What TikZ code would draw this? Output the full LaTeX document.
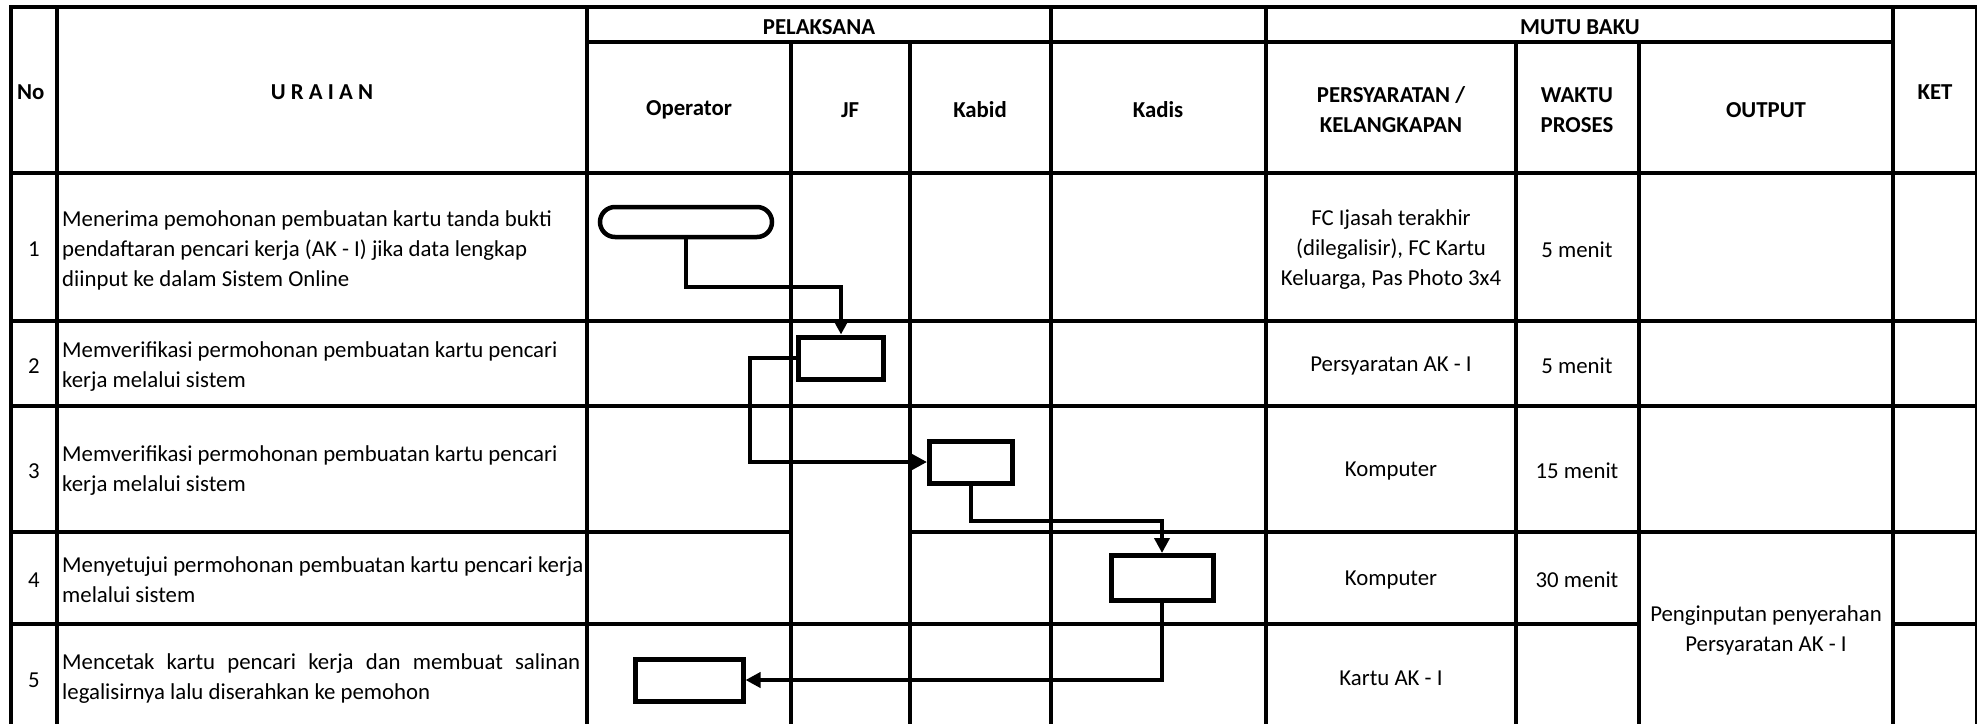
\documentclass[tikz,border=0pt]{standalone}
\usepackage{fontspec}
\setmainfont{Carlito}
\usetikzlibrary{arrows.meta}
\setlength{\parindent}{0pt}
\def\fsize{\fontsize{22.8}{30}\selectfont}

\begin{document}
\begin{tikzpicture}[x=1pt,y=-1pt,
    grid/.style={line width=4.5pt,line cap=rect},
    box/.style={draw,line width=5pt,minimum width=#1,minimum height=42pt,inner sep=0pt},
    flow/.style={line width=4pt,-{Triangle[length=15pt,width=15pt]}},
    txt/.style={font=\fsize,align=center,inner sep=0pt,yshift=-2pt},
    hd/.style={txt,font=\fsize\bfseries},
    left/.style={txt,anchor=west,align=left}]
    \useasboundingbox (0,0) rectangle (1977,723);
    \clip (0,0) rectangle (1977,723);
    \foreach \x in {11,57,587,1051,1266,1893,1977}
      \draw[grid] (\x,7) -- (\x,730);
    \foreach \x in {791,910,1516,1639}
      \draw[grid] (\x,42) -- (\x,730);
    \draw[grid] (11,7) -- (1977,7);
    \draw[grid] (587,42) -- (1893,42);
    \foreach \y in {173,321,406}
      \draw[grid] (11,\y) -- (1977,\y);
    \draw[grid] (11,532) -- (791,532) (910,532) -- (1977,532);
    \draw[grid] (11,624) -- (1639,624) (1893,624) -- (1977,624);

    \node[hd,anchor=west] (hno) at (17,90) {No};
    \node[hd] (huraian) at (322,90) {U R A I A N};
    \node[hd] (hpelaksana) at (819,25) {PELAKSANA};
    \node[hd] (hmutu) at (1580,25) {MUTU BAKU};
    \node[hd] (hoperator) at (689,108) {Operator};
    \node[hd] (hjf) at (850,108) {JF};
    \node[hd] (hkabid) at (980,108) {Kabid};
    \node[hd] (hkadis) at (1158,108) {Kadis};
    \node[hd] (hsyarat) at (1391,108) {PERSYARATAN /\\KELANGKAPAN};
    \node[hd] (hwaktu) at (1577,108) {WAKTU\\PROSES};
    \node[hd] (houtput) at (1766,108) {OUTPUT};
    \node[hd] (hket) at (1935,90) {KET};

    \foreach \n/\y in {1/247,2/364,3/469,4/578,5/678}
      \node[txt] (no\n) at (34,\y) {\n};
    \node[left] (u1) at (62,248) {Menerima pemohonan pembuatan kartu tanda bukti\\pendaftaran pencari kerja (AK - I) jika data lengkap\\diinput ke dalam Sistem Online};
    \node[left] (u2) at (62,365) {Memverifikasi permohonan pembuatan kartu pencari\\kerja melalui sistem};
    \node[left] (u3) at (62,469) {Memverifikasi permohonan pembuatan kartu pencari\\kerja melalui sistem};
    \node[left] (u4) at (62,578) {Menyetujui permohonan pembuatan kartu pencari kerja\\melalui sistem};
    \node[txt,anchor=west,text width=518pt,align=justify] (u5) at (62,677) {Mencetak kartu pencari kerja dan membuat salinan\linebreak legalisirnya lalu diserahkan ke pemohon};

    \node[txt] (s1) at (1391,248) {FC Ijasah terakhir\\(dilegalisir), FC Kartu\\Keluarga, Pas Photo 3x4};
    \node[txt] (w1) at (1577,248) {5 menit};
    \node[txt] (s2) at (1391,364) {Persyaratan AK - I};
    \node[txt] (w2) at (1577,364) {5 menit};
    \node[txt] (s3) at (1391,469) {Komputer};
    \node[txt] (w3) at (1577,469) {15 menit};
    \node[txt] (s4) at (1391,578) {Komputer};
    \node[txt] (w4) at (1577,578) {30 menit};
    \node[txt] (s5) at (1391,676) {Kartu AK - I};
    \node[txt] (out45) at (1766,628) {Penginputan penyerahan\\Persyaratan AK - I};

    \node[draw,line width=4.5pt,rounded corners=15pt,minimum width=172pt,minimum height=30pt] (start) at (686,222) {};
    \node[box=85pt] (jfbox) at (841,358) {};
    \node[box=83pt] (kabidbox) at (971,462) {};
    \node[box=102pt,minimum height=45pt] (kadisbox) at (1162,578) {};
    \node[box=108pt] (opbox) at (689,680) {};

    \draw[flow] (start.south) -- ++(0,48) -| (jfbox.north);
    \draw[flow] (jfbox.west) -- ++(-46,0) |- (kabidbox.west);
    \draw[flow] (kabidbox.south) -- ++(0,35) -| (kadisbox.north);
    \draw[flow] (kadisbox.south) |- (opbox.east);
\end{tikzpicture}
\end{document}
